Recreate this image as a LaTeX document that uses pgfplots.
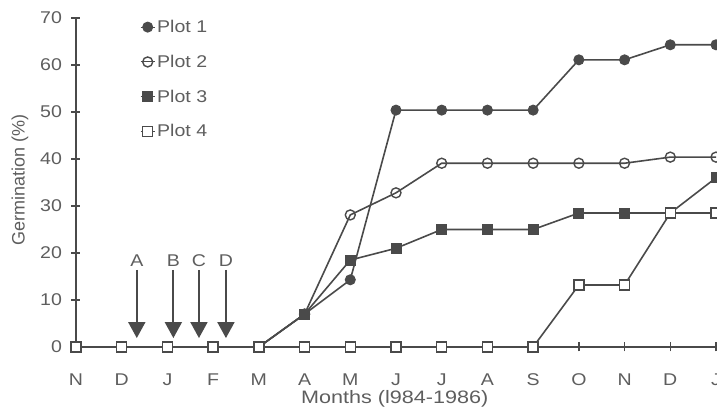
\documentclass[border=0pt]{standalone}
\usepackage{fontspec}
\setmainfont{Liberation Sans}
\newfontfamily\wfont{Liberation Sans}[FakeStretch=1.15]
\newfontfamily\xfont{Liberation Sans}[FakeStretch=1.2]
\usepackage{pgfplots}
\pgfplotsset{compat=1.18}
\usetikzlibrary{arrows.meta}
\definecolor{ink}{HTML}{4A4A4A}
\definecolor{txt}{HTML}{5E5E5E}
\newcommand{\lblfont}{\wfont\fontsize{17}{17}\selectfont}
\begin{document}
\begin{tikzpicture}
\begin{axis}[
  anchor=origin, at={(0pt,0pt)},
  scale only axis, width=640pt, height=329pt,
  xmin=0, xmax=14, ymin=0, ymax=70,
  clip=false,
  axis x line=bottom, axis y line=left,
  axis line style={-, ink, line width=1.6pt},
  xtick={0,...,14},
  xticklabels={N,D,J,F,M,A,M,J,J,A,S,O,N,D,J},
  ytick={0,10,...,70},
  tick align=center,
  major tick length=9pt,
  tick style={ink, line width=1.4pt},
  ticklabel style={font=\lblfont, text=txt},
  /pgf/number format/assume math mode=true,
  xticklabel style={anchor=center, yshift=-28pt},
  yticklabel style={xshift=-6pt},
  xlabel={Months (l984-1986)},
  xlabel style={at={(axis description cs:0.498,-0.1581)}, anchor=center, font=\xfont\fontsize{18}{18}\selectfont, text=txt},
  ylabel={Germination (\%)},
  ylabel style={at={(axis description cs:-0.0875,0.5076)}, anchor=center, font=\fontsize{18}{18}\selectfont, text=txt},
  legend style={at={(rel axis cs:0.1,1.0)}, anchor=north west, draw=none, fill=none,
    font=\lblfont, text=txt, row sep=17pt, inner sep=0pt},
  legend cell align=left,
  legend image code/.code={\draw[mark repeat=2,mark phase=2,#1,line width=1pt] plot coordinates {(0pt,0pt) (7pt,0pt) (14pt,0pt)};},
  every axis plot/.append style={ink, line width=1.6pt},
]
\addplot[mark=*, mark size=5pt, mark options={fill=ink, draw=ink, line width=1pt}]
  coordinates {(0,0) (1,0) (2,0) (3,0) (4,0) (5,7) (6,14.3) (7,50.4) (8,50.4) (9,50.4) (10,50.4) (11,61.1) (12,61.1) (13,64.3) (14,64.3)};
\addlegendentry{Plot 1}
\addplot[mark=o, mark size=5pt, mark options={fill=white, draw=ink, line width=1.4pt}]
  coordinates {(0,0) (1,0) (2,0) (3,0) (4,0) (5,7) (6,28.1) (7,32.8) (8,39.1) (9,39.1) (10,39.1) (11,39.1) (12,39.1) (13,40.4) (14,40.4)};
\addlegendentry{Plot 2}
\addplot[mark=square*, mark size=5pt, mark options={fill=ink, draw=ink, line width=1pt}]
  coordinates {(0,0) (1,0) (2,0) (3,0) (4,0) (5,7) (6,18.5) (7,21) (8,25) (9,25) (10,25) (11,28.5) (12,28.5) (13,28.5) (14,36)};
\addlegendentry{Plot 3}
\addplot[mark=square*, mark size=5pt, mark options={fill=white, draw=ink, line width=1.4pt}]
  coordinates {(0,0) (1,0) (2,0) (3,0) (4,0) (5,0) (6,0) (7,0) (8,0) (9,0) (10,0) (11,13.2) (12,13.2) (13,28.5) (14,28.5)};
\addlegendentry{Plot 4}
\foreach \xx/\ll in {1.33/A, 2.13/B, 2.69/C, 3.28/D}{
  \edef\temp{\noexpand\draw[ink, line width=1.8pt, -{Triangle[width=17pt,length=16pt]}] (axis cs:\xx,16.4) -- (axis cs:\xx,1.9);
  \noexpand\node[text=txt, font=\noexpand\lblfont, anchor=south, inner sep=0pt] at (axis cs:\xx,17.1) {\ll};}
  \temp
}
\end{axis}
\pgfresetboundingbox
\useasboundingbox (-76pt,-64pt) rectangle (641pt,347pt);
\end{tikzpicture}
\end{document}
